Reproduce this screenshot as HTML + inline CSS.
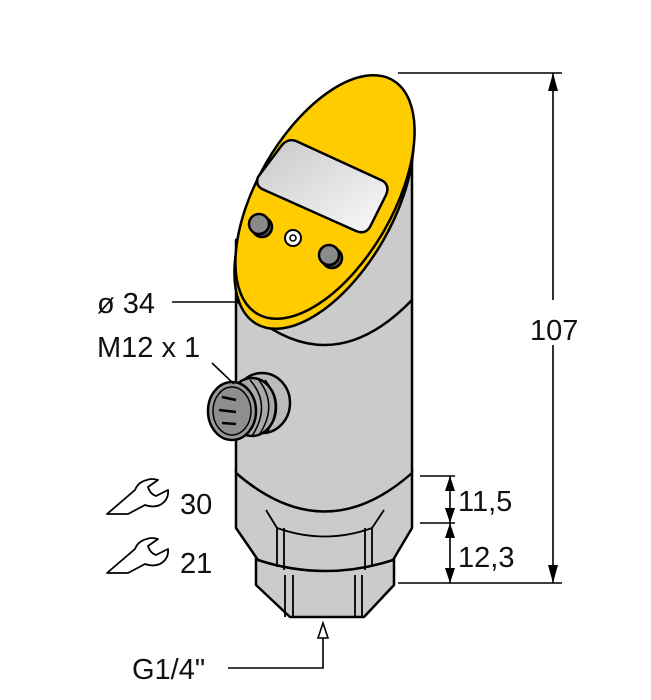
<!DOCTYPE html>
<html><head><style>
html,body{margin:0;padding:0;background:#fff;}
svg{display:block;}
text{font-family:"Liberation Sans",sans-serif;font-size:29px;fill:#111;}
</style></head><body>
<svg width="651" height="700" viewBox="0 0 651 700" xmlns="http://www.w3.org/2000/svg">
<defs>
<linearGradient id="disp" x1="0" y1="0" x2="1" y2="1"><stop offset="0" stop-color="#c8c8c8"/><stop offset="1" stop-color="#fafafa"/></linearGradient>
</defs>
<g stroke="#000" stroke-width="2.5" stroke-linejoin="round">
<!-- lower hex 21 -->
<path d="M256,545 L256,585 L290,617 L364,617 L394,585 L394,545 Z" fill="#cbcbcb"/>
<path d="M285,575 L285,617 M293,575 L293,617 M355,575 L355,617 M362,575 L362,617" fill="none" stroke-width="1.8"/>
<!-- upper hex 30 -->
<path d="M236,470 L236,528 L258,560 Q325,582 393,560 L412,528 L412,470 Z" fill="#cbcbcb"/>
<path d="M266,510 L277,528 L277,567 M284,528 L284,570 M384,510 L372,528 L372,567 M365,528 L365,570" fill="none" stroke-width="1.8"/>
<path d="M277,528 Q325,545 372,528" fill="none" stroke-width="1.8"/>
<!-- cylinder -->
<path d="M236,240 L236,473 Q325,550 412,473 L412,140 Z" fill="#cbcbcb"/>
<path d="M236,300 Q325,390 412,300" fill="none"/>
<!-- connector -->
<ellipse cx="262" cy="403" rx="28" ry="30" fill="#bbb"/>
<ellipse cx="252" cy="407" rx="24" ry="29" fill="#a9a9a9"/>
<path d="M250,380 Q272,405 252,436 M258,379 Q279,405 259,435 M265,380 Q285,405 266,434" fill="none" stroke-width="1.5"/>
<ellipse cx="232" cy="411" rx="24" ry="29" fill="#9a9a9a"/>
<ellipse cx="232" cy="411" rx="19" ry="24" fill="#8e8e8e" stroke-width="1.5"/>
<path d="M222,397 L236,400 M219,410 L236,412 M222,423 L236,424" stroke-width="2.5"/>
<!-- yellow top -->
<ellipse cx="324" cy="207" rx="135" ry="68" transform="rotate(-60 324 207)" fill="#ffcc00"/>
<ellipse cx="325" cy="197" rx="135" ry="68" transform="rotate(-60 325 197)" fill="#ffcc00"/>
<!-- display -->
<path d="M296,141 L383,181 Q390,186 386,195 L370,227 Q365,235 356,231 L262,189 Q255,185 258,177 L282,145 Q288,138 296,141 Z" fill="url(#disp)"/>
<!-- buttons -->
<circle cx="262" cy="227" r="10" fill="#555"/>
<circle cx="259" cy="224" r="10" fill="#8a8a8a"/>
<circle cx="332" cy="258" r="10" fill="#555"/>
<circle cx="329" cy="255" r="10" fill="#8a8a8a"/>
<circle cx="293" cy="238" r="8" fill="#fff" stroke-width="2"/>
<circle cx="293" cy="238" r="3" fill="#fff" stroke-width="1.5"/>
</g>
<!-- dimension lines -->
<g stroke="#000" stroke-width="1.6" fill="none">
<path d="M398,73 L562,73 M398,583 L562,583 M553,73 L553,300 M553,345 L553,583"/>
<path d="M420,476 L455,476 M420,523 L455,523 M450,476 L450,583"/>
<path d="M172,302 L236,302 M212,363 L234,384"/>
<path d="M228,668 L323,668 L323,636"/>
</g>
<g fill="#000">
<path d="M553,73 L548,91 L558,91 Z M553,583 L548,565 L558,565 Z"/>
<path d="M450,476 L445,491 L455,491 Z M450,523 L445,508 L455,508 Z M450,523 L445,538 L455,538 Z M450,583 L445,568 L455,568 Z"/>
</g>
<path d="M323,623 L318,638 L328,638 Z" fill="#fff" stroke="#000" stroke-width="1.6"/>
<!-- wrenches -->
<g fill="#fff" stroke="#000" stroke-width="1.8" stroke-linejoin="round">
<path d="M107,514 L135,490 Q138,482 147,480 Q151,478 158,480 L148,487 Q150,494 156,496 L168,490 Q169,500 160,505 Q153,508 145,505 L128,514 Z"/>
<path d="M107,573 L135,549 Q138,541 147,539 Q151,537 158,539 L148,546 Q150,553 156,555 L168,549 Q169,559 160,564 Q153,567 145,564 L128,573 Z"/>
</g>
<text x="97" y="313">ø 34</text>
<text x="97" y="357">M12 x 1</text>
<text x="530" y="340">107</text>
<text x="458" y="511">11,5</text>
<text x="458" y="567">12,3</text>
<text x="180" y="514">30</text>
<text x="180" y="573">21</text>
<text x="132" y="679">G1/4"</text>
</svg>
</body></html>
